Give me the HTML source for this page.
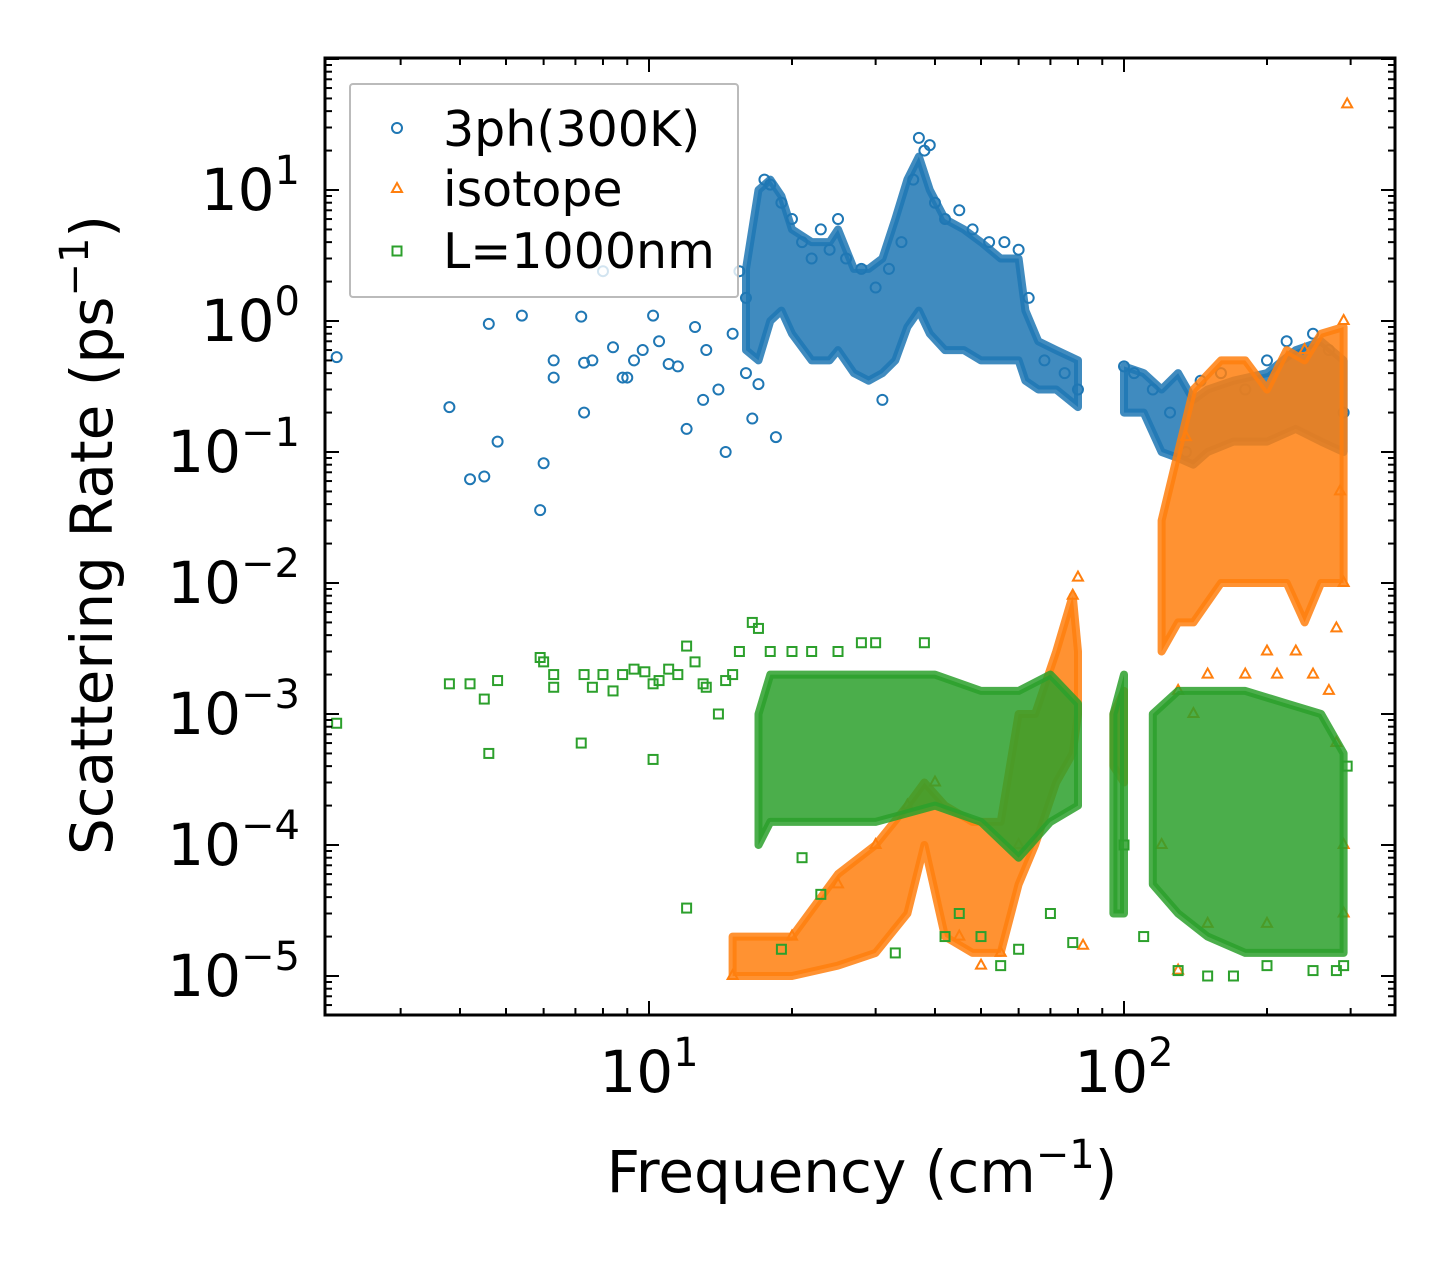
<!DOCTYPE html>
<html><head><meta charset="utf-8"><style>
body{margin:0;background:#fff}
svg text{font-family:"DejaVu Sans","Liberation Sans",sans-serif;fill:#000}
</style></head><body>
<svg id="chart" width="1455" height="1265" xmlns="http://www.w3.org/2000/svg">
<rect width="1455" height="1265" fill="#fff"/>
<g id="marks"></g><g id="axes"></g>
<g id="legend">
<rect x="350" y="84" width="388" height="213" fill="#fff" fill-opacity="0.8" stroke="#bbb" stroke-width="2" rx="3"/>
<circle cx="397" cy="128" r="5" fill="none" stroke="#1f77b4" stroke-width="2"/>
<text x="443" y="146" font-size="49">3ph(300K)</text>
<polygon points="397,183 402,192 392,192" fill="none" stroke="#ff7f0e" stroke-width="2"/>
<text x="443" y="206" font-size="49">isotope</text>
<rect x="392.5" y="246.5" width="9" height="9" fill="none" stroke="#2ca02c" stroke-width="2"/>
<text x="443" y="268" font-size="49">L=1000nm</text>
</g>
</svg>
<script>
const blueF=[2.2,3.8,4.2,4.5,4.6,4.8,5.4,5.9,6.0,6.3,6.3,7.2,7.3,7.3,7.6,8.0,8.4,8.8,9.0,9.3,9.7,10.2,10.5,11.0,11.5,12,12.5,13,13.2,14,14.5,15,15.5,16,16.5,17,18.5,16,17.5,18,19,20,21,22,23,24,25,26,28,30,31,32,34,36,37,38,39,40,42,45,48,52,56,60,63,68,75,80,100,105,115,125,135,145,160,180,200,220,250,270,290];
const blueR=[0.53,0.22,0.062,0.065,0.95,0.12,1.1,0.036,0.082,0.5,0.37,1.08,0.2,0.48,0.5,2.4,0.63,0.37,0.37,0.5,0.6,1.1,0.7,0.47,0.45,0.15,0.9,0.25,0.6,0.3,0.1,0.8,2.4,0.4,0.18,0.33,0.13,1.5,12,11,8,6,4,3,5,3.5,6,3,2.5,1.8,0.25,2.5,4,12,25,20,22,8,6,7,5,4,4,3.5,1.5,0.5,0.4,0.3,0.45,0.4,0.3,0.2,0.1,0.35,0.4,0.3,0.5,0.7,0.8,0.6,0.2];
const orangeF=[295,290,290,285,280,280,270,250,230,210,200,180,150,140,130,135,240,120,130,150,82,290,290,200,80,78,60,55,50,45,40,35,30,25,20,15];
const orangeR=[45,1,0.01,0.05,0.0045,0.0006,0.0015,0.002,0.003,0.002,0.003,0.002,0.002,0.001,0.0015,0.13,0.6,0.0001,1.1e-5,2.5e-5,1.7e-5,3e-5,1e-4,2.5e-5,0.011,0.008,0.0001,1.5e-5,1.2e-5,2e-5,3e-4,2e-4,1e-4,5e-5,2e-5,1e-5];
const greenF=[2.2,3.8,4.2,4.5,4.6,4.8,5.9,6.0,6.3,6.3,7.2,7.3,7.6,8.0,8.4,8.8,9.3,9.8,10.2,10.5,10.2,11,11.5,12,12,12.5,13,13.2,14,14.5,15,15.5,16.5,17,18,19,20,21,22,23,25,28,30,33,38,42,45,50,55,60,70,78,100,110,130,150,170,200,250,280,290,295];
const greenR=[8.5e-4,1.7e-3,1.7e-3,1.3e-3,5e-4,1.8e-3,2.7e-3,2.5e-3,2e-3,1.6e-3,6e-4,2e-3,1.6e-3,2e-3,1.5e-3,2e-3,2.2e-3,2.1e-3,1.7e-3,1.8e-3,4.5e-4,2.2e-3,2e-3,3.3e-5,3.3e-3,2.5e-3,1.7e-3,1.6e-3,1e-3,1.8e-3,2e-3,3e-3,5e-3,4.5e-3,3e-3,1.6e-5,3e-3,8e-5,3e-3,4.2e-5,3e-3,3.5e-3,3.5e-3,1.5e-5,3.5e-3,2e-5,3e-5,2e-5,1.2e-5,1.6e-5,3e-5,1.8e-5,1e-4,2e-5,1.1e-5,1e-5,1e-5,1.2e-5,1.1e-5,1.1e-5,1.2e-5,4e-4];
// dense-region envelopes (null separates segments)
const blueBandF=[16,17,18,19,20,22,24,25,27,29,31,33,35,37,39,42,46,50,55,60,62,66,72,80,null,100,110,120,130,140,150,170,200,230,260,290];
const blueBandLo=[0.6,0.5,1,1.2,0.8,0.5,0.5,0.6,0.4,0.35,0.4,0.5,0.9,1.2,0.8,0.6,0.6,0.5,0.5,0.5,0.35,0.3,0.3,0.22,null,0.2,0.2,0.1,0.09,0.08,0.1,0.12,0.12,0.15,0.12,0.1];
const blueBandHi=[2.5,10,12,9,5,4,4,5,2.5,2.5,3,6,12,18,10,6,5,4,3,3,1.2,0.7,0.6,0.5,null,0.45,0.4,0.3,0.4,0.25,0.3,0.35,0.4,0.6,0.7,0.5];
const orangeBandF=[15,20,25,30,35,38,42,48,55,60,65,72,78,80,null,95,100,null,120,130,140,160,180,200,220,240,260,290];
const orangeBandLo=[1e-5,1e-5,1.2e-5,1.5e-5,3e-5,1e-4,2e-5,1.5e-5,1.5e-5,5e-5,1e-4,3e-4,5e-4,1e-3,null,4e-4,3e-4,null,3e-3,5e-3,5e-3,1e-2,1e-2,1e-2,1e-2,5e-3,1e-2,1e-2];
const orangeBandHi=[2e-5,2e-5,6e-5,1e-4,2e-4,3e-4,2e-4,1.5e-4,1.5e-4,1e-3,1e-3,3e-3,8e-3,3e-3,null,1e-3,1.5e-3,null,3e-2,0.1,0.3,0.5,0.5,0.3,0.6,0.5,0.8,0.9];
const greenBandF=[17,18,22,30,40,50,60,70,80,null,95,100,null,115,130,150,180,220,260,290];
const greenBandLo=[1e-4,1.5e-4,1.5e-4,1.5e-4,2e-4,1.5e-4,8e-5,1.5e-4,2e-4,null,3e-5,3e-5,null,5e-5,3e-5,2e-5,1.5e-5,1.5e-5,1.5e-5,1.5e-5];
const greenBandHi=[1e-3,2e-3,2e-3,2e-3,2e-3,1.5e-3,1.5e-3,2e-3,1.2e-3,null,1e-3,2e-3,null,1e-3,1.5e-3,1.5e-3,1.5e-3,1.2e-3,1e-3,5e-4];
const xTickVals=[10,100];
const xTickLabels=["1","2"];
const yTickVals=[10,1,0.1,0.01,0.001,1e-4,1e-5];
const yTickLabels=["1","0","\u22121","\u22122","\u22123","\u22124","\u22125"];

const L=325,R=1395,T=58,B=1015;
const X=v=>649+(Math.log10(v)-1)*475;
const Y=v=>190-(Math.log10(v)-1)*131;
const NS="http://www.w3.org/2000/svg";
function mk(tag,attrs,parent){const e=document.createElementNS(NS,tag);for(const k in attrs)e.setAttribute(k,attrs[k]);parent.appendChild(e);return e;}
const marks=document.getElementById('marks'),axes=document.getElementById('axes');
const clip=mk('clipPath',{id:'pc'},document.getElementById('chart'));mk('rect',{x:L,y:T,width:R-L,height:B-T},clip);
marks.setAttribute('clip-path','url(#pc)');

function band(F,lo,hi,color,name,g){
  let seg=[];const segs=[];
  F.forEach((f,i)=>{if(f===null){segs.push(seg);seg=[];}else seg.push(i);});segs.push(seg);
  segs.forEach((s,si)=>{
    let d=s.map((i,k)=>(k?'L':'M')+X(F[i]).toFixed(1)+','+Y(hi[i]).toFixed(1)).join('');
    d+=s.slice().reverse().map(i=>'L'+X(F[i]).toFixed(1)+','+Y(lo[i]).toFixed(1)).join('')+'Z';
    const p=mk('path',{d:d,fill:color,'fill-opacity':0.85,stroke:color,'stroke-width':8,'stroke-linejoin':'round','stroke-opacity':0.85},g);
    
    
  });
}
const gB=mk('g',{},marks),gO=mk('g',{},marks),gG=mk('g',{},marks);
band(blueBandF,blueBandLo,blueBandHi,'#1f77b4','3ph',gB);
band(orangeBandF,orangeBandLo,orangeBandHi,'#ff7f0e','isotope',gO);
band(greenBandF,greenBandLo,greenBandHi,'#2ca02c','boundary',gG);

blueF.forEach((f,i)=>{const c=mk('circle',{cx:X(f),cy:Y(blueR[i]),r:5,fill:'none',stroke:'#1f77b4','stroke-width':2},gB);

});
orangeF.forEach((f,i)=>{const x=X(f),y=Y(orangeR[i]);const p=mk('polygon',{points:`${x},${y-6} ${x+5},${y+3} ${x-5},${y+3}`,fill:'none',stroke:'#ff7f0e','stroke-width':2},gO);

});
greenF.forEach((f,i)=>{const x=X(f),y=Y(greenR[i]);const p=mk('rect',{x:x-4.5,y:y-4.5,width:9,height:9,fill:'none',stroke:'#2ca02c','stroke-width':2},gG);

});

for(let e=0;e<=2;e++)for(let m=1;m<10;m++){const v=m*Math.pow(10,e);const x=X(v);if(x<L||x>R)continue;const len=m===1?14:7;
mk('line',{x1:x,x2:x,y1:B,y2:B-len,stroke:'#000','stroke-width':2},axes);mk('line',{x1:x,x2:x,y1:T,y2:T+len,stroke:'#000','stroke-width':2},axes);}
for(let e=-6;e<=2;e++)for(let m=1;m<10;m++){const v=m*Math.pow(10,e);const y=Y(v);if(y<T||y>B)continue;const len=m===1?14:7;
mk('line',{x1:L,x2:L+len,y1:y,y2:y,stroke:'#000','stroke-width':2},axes);mk('line',{x1:R,x2:R-len,y1:y,y2:y,stroke:'#000','stroke-width':2},axes);}
const fr=mk('rect',{x:L,y:T,width:R-L,height:B-T,fill:'none',stroke:'#000','stroke-width':3},axes);


xTickVals.forEach((v,i)=>{const t=mk('text',{x:X(v),y:1092,'font-size':58,'text-anchor':'middle'},axes);


t.innerHTML='10<tspan dy="-26" font-size="40">'+xTickLabels[i]+'</tspan>';});
yTickVals.forEach((v,i)=>{const t=mk('text',{x:300,y:Y(v)+20,'font-size':58,'text-anchor':'end'},axes);


t.innerHTML='10<tspan dy="-26" font-size="40">'+yTickLabels[i]+'</tspan>';});
const xl=mk('text',{x:862,y:1192,'font-size':58,'text-anchor':'middle'},axes);


xl.innerHTML='Frequency (cm<tspan dy="-24" font-size="40">\u22121</tspan><tspan dy="24">)</tspan>';
const yl=mk('text',{x:0,y:0,'font-size':58,'text-anchor':'middle',transform:'translate(112,535) rotate(-90)'},axes);


yl.innerHTML='Scattering Rate (ps<tspan dy="-24" font-size="40">\u22121</tspan><tspan dy="24">)</tspan>';
</script>
</body></html>
